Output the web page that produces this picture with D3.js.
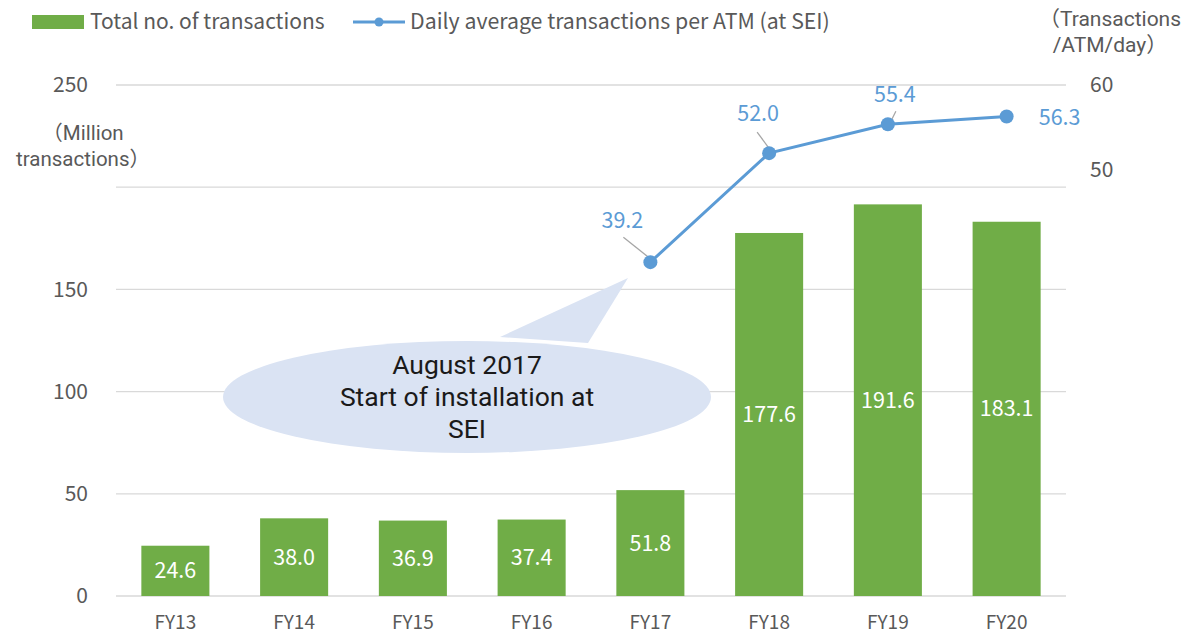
<!DOCTYPE html>
<html>
<head>
<meta charset="utf-8">
<script src="https://cdn.jsdelivr.net/npm/d3@7"></script>
<style>
  body { margin: 0; background: #fff; }
  text { font-family: "Noto Sans CJK JP", "Noto Sans", sans-serif; }
  text.multi { font-family: Roboto, "Noto Sans CJK JP", sans-serif; }
</style>
</head>
<body>
<div id="chart"></div>
<script>
// data
var years = ['FY13', 'FY14', 'FY15', 'FY16', 'FY17', 'FY18', 'FY19', 'FY20'];
var totals = [24.6, 38.0, 36.9, 37.4, 51.8, 177.6, 191.6, 183.1];
var lineYears = ['FY17', 'FY18', 'FY19', 'FY20'];
var dailyAvg = [39.2, 52.0, 55.4, 56.3];
var leftTicks = [0, 50, 100, 150, 200, 250];
var leftTickLabels = ['0', '50', '100', '150', '', '250'];
var rightTicks = [50, 60];

var svgWidth = 1186, svgHeight = 638;
var margin = { top: 85, right: 120, bottom: 42, left: 116 };
var width = svgWidth - margin.left - margin.right,
    height = svgHeight - margin.top - margin.bottom;

var green = '#70AD47', blue = '#5B9BD5', grey = '#595959';

var svg = d3.select('#chart').append('svg')
    .attr('width', svgWidth)
    .attr('height', svgHeight);

var chartGroup = svg.append('g')
    .attr('transform', `translate(${margin.left},${margin.top})`);

var xScale = d3.scaleBand().domain(years).range([0, width]).paddingInner(0.427).paddingOuter(0.2135);
var yLeft = d3.scaleLinear().domain([0, 250]).range([height, 0]);
var yRight = d3.scaleLinear().domain([0, 60]).range([height, 0]);

// gridlines
chartGroup.append('g').selectAll('line')
    .data(leftTicks)
    .enter().append('line')
    .attr('x1', 0).attr('x2', width)
    .attr('y1', d => yLeft(d)).attr('y2', d => yLeft(d))
    .attr('stroke', '#d9d9d9').attr('stroke-width', 1.3);

// left axis
var leftAxis = chartGroup.append('g')
    .call(d3.axisLeft(yLeft).tickValues(leftTicks).tickSize(0).tickPadding(28)
        .tickFormat((d, i) => leftTickLabels[i]));
leftAxis.select('.domain').remove();
leftAxis.selectAll('text').attr('fill', grey).style('font-size', '21px')
    .style('font-family', '"Noto Sans CJK JP", sans-serif');

// right axis
var rightAxis = chartGroup.append('g')
    .attr('transform', `translate(${width},0)`)
    .call(d3.axisRight(yRight).tickValues(rightTicks).tickSize(0).tickPadding(24));
rightAxis.select('.domain').remove();
rightAxis.selectAll('text').attr('fill', grey).style('font-size', '21px')
    .style('font-family', '"Noto Sans CJK JP", sans-serif');

// x axis
var xAxis = chartGroup.append('g')
    .attr('transform', `translate(0,${height})`)
    .call(d3.axisBottom(xScale).tickSize(0).tickPadding(20));
xAxis.select('.domain').remove();
xAxis.selectAll('text').attr('fill', grey).style('font-size', '19px')
    .style('font-family', '"Noto Sans CJK JP", sans-serif');

// bars
chartGroup.append('g').selectAll('rect')
    .data(totals)
    .enter().append('rect')
    .attr('x', (d, i) => xScale(years[i]))
    .attr('y', d => yLeft(d))
    .attr('width', xScale.bandwidth())
    .attr('height', d => height - yLeft(d))
    .attr('fill', green);

chartGroup.append('g').selectAll('text')
    .data(totals)
    .enter().append('text')
    .attr('x', (d, i) => xScale(years[i]) + xScale.bandwidth() / 2)
    .attr('y', d => (yLeft(d) + height) / 2)
    .attr('dy', '0.35em')
    .attr('text-anchor', 'middle')
    .attr('fill', '#fff')
    .style('font-size', '21.5px')
    .text(d => d.toFixed(1));

// multi-line text as one element
var multiLine = (parent, x, y, lines, lineH) => {
    var t = parent.append('text').classed('multi', true).attr('x', x).attr('y', y);
    lines.forEach((s, i) => {
        t.append('tspan').attr('x', x).attr('dy', i === 0 ? '0.35em' : lineH).text(s);
    });
    return t;
};

// balloon callout
var balloon = chartGroup.append('g');
balloon.append('path')
    .attr('d', `M${500 - margin.left},${337 - margin.top} L${628 - margin.left},${278 - margin.top} L${588 - margin.left},${343 - margin.top} Z`)
    .attr('fill', '#DAE3F3');
balloon.append('ellipse')
    .attr('cx', 467 - margin.left).attr('cy', 397 - margin.top)
    .attr('rx', 244).attr('ry', 56)
    .attr('fill', '#DAE3F3');
multiLine(balloon, 467 - margin.left, 365 - margin.top,
        ['August 2017', 'Start of installation at', 'SEI'], 32)
    .attr('text-anchor', 'middle')
    .attr('fill', '#1a1a1a')
    .style('font-size', '26.5px');

// line series
var cx = (d, i) => xScale(lineYears[i]) + xScale.bandwidth() / 2;
var line = d3.line().x(cx).y(d => yRight(d));
chartGroup.append('path')
    .datum(dailyAvg)
    .attr('d', line)
    .attr('fill', 'none')
    .attr('stroke', blue)
    .attr('stroke-width', 3);

// leader lines for point labels
var leaders = [[-27, -25, -2, -5], [-12, -21, 2, -2], [8, -13, 2, -1]];
chartGroup.append('g').selectAll('line')
    .data(leaders)
    .enter().append('line')
    .attr('x1', (d, i) => cx(dailyAvg[i], i) + d[0])
    .attr('y1', (d, i) => yRight(dailyAvg[i]) + d[1])
    .attr('x2', (d, i) => cx(dailyAvg[i], i) + d[2])
    .attr('y2', (d, i) => yRight(dailyAvg[i]) + d[3])
    .attr('stroke', '#a6a6a6').attr('stroke-width', 1.3);

chartGroup.append('g').selectAll('circle')
    .data(dailyAvg)
    .enter().append('circle')
    .attr('cx', cx)
    .attr('cy', d => yRight(d))
    .attr('r', 7)
    .attr('fill', blue);

var labelOffsets = [[-28, -42], [-11, -40], [7, -30], [53, 1]];
chartGroup.append('g').selectAll('text')
    .data(dailyAvg)
    .enter().append('text')
    .attr('x', (d, i) => cx(d, i) + labelOffsets[i][0])
    .attr('y', (d, i) => yRight(d) + labelOffsets[i][1])
    .attr('dy', '0.35em')
    .attr('text-anchor', 'middle')
    .attr('fill', blue)
    .style('font-size', '21.5px')
    .text(d => d.toFixed(1));

// axis titles
multiLine(svg, 83, 133, ['（Million', 'transactions）'], 26)
    .attr('text-anchor', 'middle').attr('fill', grey).style('font-size', '20.5px');
multiLine(svg, 1110, 19, ['（Transactions', '/ATM/day）'], 26)
    .attr('text-anchor', 'middle').attr('fill', grey).style('font-size', '21px');

// legend
var legend = svg.append('g');
legend.append('rect').attr('x', 32).attr('y', 15).attr('width', 52).attr('height', 14).attr('fill', green);
legend.append('text').attr('x', 90).attr('y', 22).attr('dy', '0.35em')
    .attr('fill', grey).style('font-size', '21px').text('Total no. of transactions');
legend.append('line').attr('x1', 353).attr('x2', 405).attr('y1', 22).attr('y2', 22)
    .attr('stroke', blue).attr('stroke-width', 3);
legend.append('circle').attr('cx', 379).attr('cy', 22).attr('r', 4.5).attr('fill', blue);
legend.append('text').attr('x', 410).attr('y', 22).attr('dy', '0.35em')
    .attr('fill', grey).style('font-size', '21.3px').text('Daily average transactions per ATM (at SEI)');
</script>
</body>
</html>
